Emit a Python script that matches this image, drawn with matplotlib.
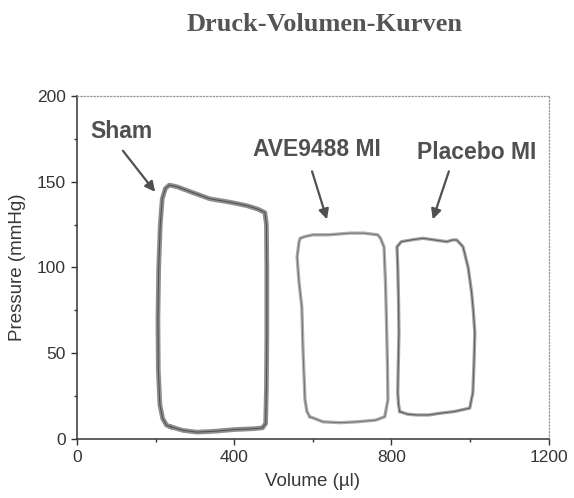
import matplotlib
matplotlib.use('Agg')
import matplotlib.pyplot as plt

# Pressure-volume loops (volume in µl, pressure in mmHg)
sham_vol = [240, 270, 305, 350, 400, 450, 472, 480, 482, 483, 483, 482, 478,
            460, 432, 390, 338, 290, 255, 235, 225, 217, 212, 208, 206, 207,
            211, 218, 228, 240]
sham_p = [7, 5, 4, 4.5, 5.5, 6, 6.5, 9, 30, 60, 100, 125, 132,
          134, 136, 138, 140, 144, 147, 148, 146, 140, 125, 100, 70, 40,
          20, 12, 8, 7]

ave_vol = [592, 626, 670, 712, 760, 783, 791, 790, 788, 785, 781, 772, 765,
           730, 694, 640, 600, 580, 568, 565, 560, 565, 572, 575, 580, 585, 592]
ave_p = [13, 10, 9.5, 10, 11, 13, 23, 40, 62, 90, 112, 117, 119,
         120, 120, 119, 119, 118, 117, 115, 106, 91, 77, 52, 23, 16, 13]

plac_vol = [821, 840, 864, 895, 923, 960, 999, 1007, 1010, 1012, 1008, 1004,
            995, 982, 966, 955, 941, 910, 880, 850, 825, 814, 816, 818, 819,
            817, 816, 818, 821]
plac_p = [16, 14.5, 14, 14, 15, 16, 18, 27, 45, 62, 75, 85,
          100, 112, 116, 116, 115, 116, 117, 116, 115, 112, 100, 80, 62,
          40, 27, 20, 16]

labels = ['Sham', 'AVE9488 MI', 'Placebo MI']
label_xy = [(113, 179), (610, 169), (1017, 167)]
arrow_tail = [(117, 168), (598, 156), (946, 156)]
arrow_head = [(199, 144), (636, 128), (905, 128)]

fig = plt.figure(figsize=(5.74, 4.98), dpi=100)
ax = fig.add_axes([0.134, 0.1185, 0.822, 0.689])

# sham trace is drawn heavier than the two infarct groups
styles = [(3.4, '#8e8e8e', 0.7, '#4d4d4d'),
          (2.4, '#b0b0b0', 0.6, '#6a6a6a'),
          (2.4, '#a6a6a6', 0.7, '#5a5a5a')]
for (v, p), (w1, c1, w2, c2) in zip([(sham_vol, sham_p), (ave_vol, ave_p),
                                     (plac_vol, plac_p)], styles):
    ax.plot(v, p, color=c1, lw=w1, solid_joinstyle='round')
    ax.plot(v, p, color=c2, lw=w2, solid_joinstyle='round')

for text, xy, tail, head in zip(labels, label_xy, arrow_tail, arrow_head):
    ax.text(xy[0], xy[1], text, ha='center', va='center', fontsize=16.5,
            fontweight='bold', color='#505050', family='Liberation Sans')
    ax.annotate('', xy=head, xytext=tail,
                arrowprops=dict(arrowstyle='-|>,head_length=0.6,head_width=0.3',
                                color='#505050', lw=1.6, shrinkA=0, shrinkB=0))

ax.set_xlim(0, 1200)
ax.set_ylim(0, 200)
ax.set_xticks([0, 400, 800, 1200])
ax.set_xticks([200, 600, 1000], minor=True)
ax.set_yticks([0, 50, 100, 150, 200])
ax.set_yticks([25, 75, 125, 175], minor=True)
ax.tick_params(which='major', direction='out', length=4, width=1, color='#333333',
               labelsize=12.5, labelcolor='#353535', pad=4)
ax.tick_params(which='minor', direction='out', length=2.5, width=1, color='#333333')
for lab in ax.get_xticklabels() + ax.get_yticklabels():
    lab.set_family('Liberation Sans')

for side in ['left', 'bottom']:
    ax.spines[side].set_color('#333333')
    ax.spines[side].set_linewidth(1.1)
for side in ['top', 'right']:
    ax.spines[side].set_color('#999999')
    ax.spines[side].set_linestyle(':')
    ax.spines[side].set_linewidth(0.9)

ax.set_xlabel('Volume (µl)', fontsize=13.5, color='#383838', family='Liberation Sans', labelpad=6)
ax.set_ylabel('Pressure (mmHg)', fontsize=13.5, color='#383838', family='Liberation Sans', labelpad=8)

fig.text(0.566, 0.95, 'Druck-Volumen-Kurven', ha='center', va='center', fontsize=19,
         fontweight='bold', color='#555555', family='Liberation Serif')

fig.savefig('out.png', dpi=100)
